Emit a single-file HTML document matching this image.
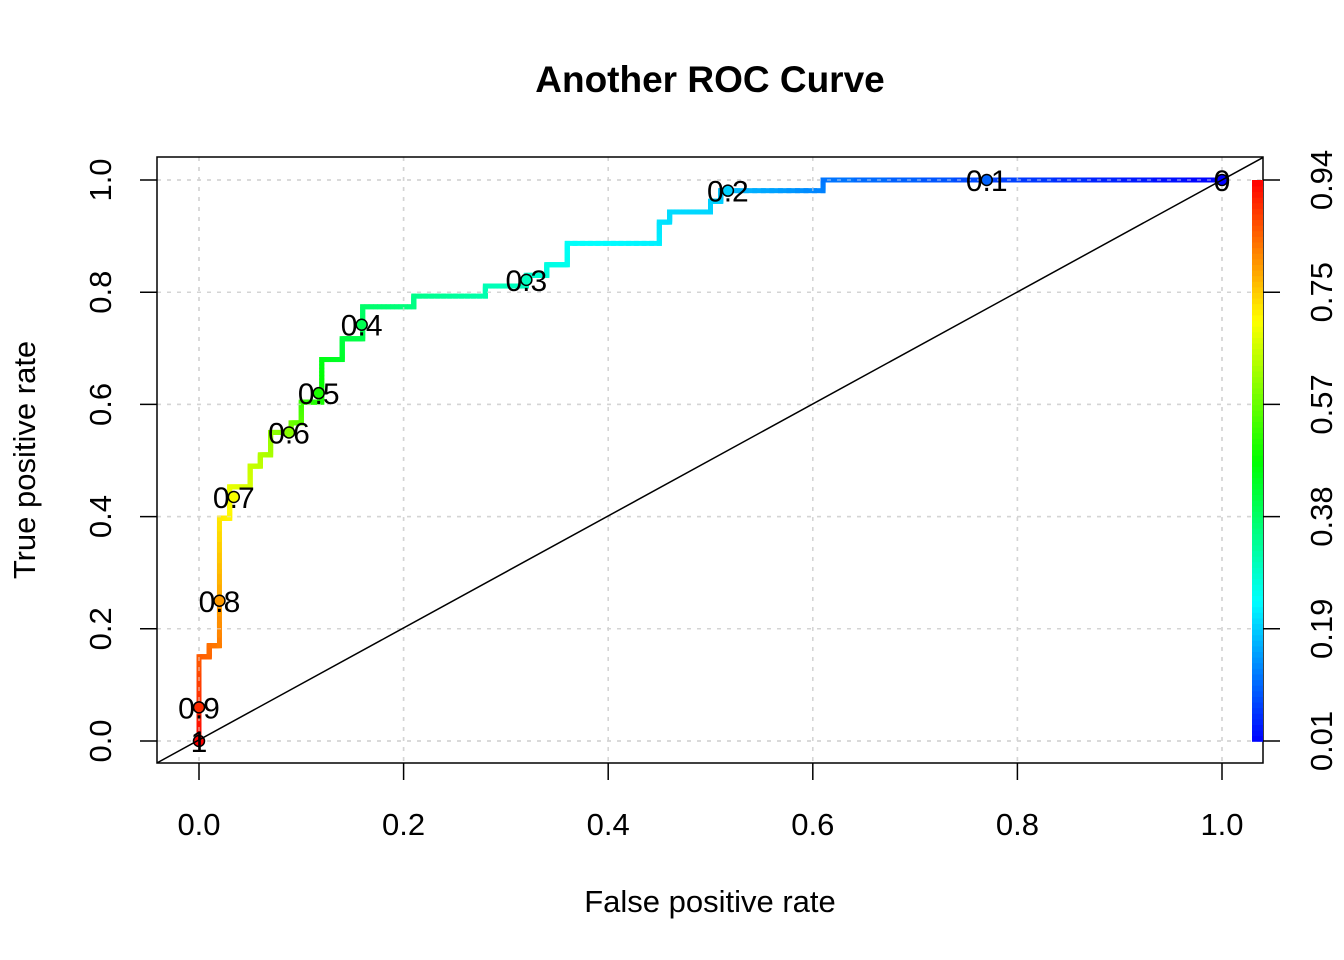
<!DOCTYPE html>
<html><head><meta charset="utf-8"><style>
body{margin:0;background:#fff;}
svg{display:block;font-family:"Liberation Sans",Arial,sans-serif;}
</style></head><body>
<svg id="chart" width="1344" height="960" viewBox="0 0 1344 960" xmlns="http://www.w3.org/2000/svg">
<rect width="1344" height="960" fill="#fff"/>
<text x="710" y="92" text-anchor="middle" font-size="37" font-weight="bold">Another ROC Curve</text>
<g id="grid"></g>
<g id="curve"></g>
<g id="grid2"></g>
<g id="marks"></g>
<g id="axes"></g>
<g id="cbar"></g>
<text x="710" y="912" text-anchor="middle" font-size="31">False positive rate</text>
<text transform="translate(35,460) rotate(-90)" text-anchor="middle" font-size="31">True positive rate</text>
</svg>
<script>
const fprs=[0,0,0.01,0.01,0.02,0.02,0.03,0.03,0.05,0.05,0.06,0.06,0.07,0.07,0.09,0.09,0.1,0.1,0.12,0.12,0.14,0.14,0.16,0.16,0.21,0.21,0.28,0.28,0.32,0.32,0.34,0.34,0.36,0.36,0.45,0.45,0.46,0.46,0.5,0.5,0.51,0.51,0.61,0.61,1];
const tprs=[0,0.15,0.15,0.17,0.17,0.397,0.397,0.453,0.453,0.49,0.49,0.51,0.51,0.55,0.55,0.567,0.567,0.604,0.604,0.68,0.68,0.717,0.717,0.774,0.774,0.793,0.793,0.811,0.811,0.83,0.83,0.849,0.849,0.887,0.887,0.925,0.925,0.943,0.943,0.962,0.962,0.981,0.981,1,1];
const cutoffs=[0.94,0.86,0.85,0.84,0.83,0.73,0.72,0.69,0.67,0.66,0.65,0.64,0.63,0.61,0.59,0.58,0.56,0.53,0.5,0.46,0.44,0.42,0.41,0.38,0.36,0.35,0.32,0.31,0.3,0.29,0.28,0.27,0.26,0.25,0.23,0.22,0.215,0.21,0.205,0.2,0.2,0.19,0.13,0.12,0.01];
const labelText=["1","0.9","0.8","0.7","0.6","0.5","0.4","0.3","0.2","0.1","0"];
const labelFpr=[0,0,0.02,0.034,0.088,0.117,0.159,0.32,0.517,0.77,1];
const labelTpr=[0,0.06,0.25,0.435,0.55,0.62,0.742,0.822,0.981,1,1];
const labelCut=[0.94,0.9,0.8,0.7,0.6,0.5,0.4,0.3,0.2,0.1,0.01];
const xTicks=[0,0.2,0.4,0.6,0.8,1.0];
const xTickLabels=["0.0","0.2","0.4","0.6","0.8","1.0"];
const yTicks=[0,0.2,0.4,0.6,0.8,1.0];
const yTickLabels=["0.0","0.2","0.4","0.6","0.8","1.0"];
const cbTickLabels=["0.01","0.19","0.38","0.57","0.75","0.94"];
const cMin=0.01,cMax=0.94;

const X=v=>199+v*1023, Y=v=>741-v*561;
const col=c=>{let t=(c-cMin)/(cMax-cMin);t=Math.max(0,Math.min(1,t));return `hsl(${(1-t)*240},100%,50%)`;};
const NS="http://www.w3.org/2000/svg";
function mk(tag,attrs,parent){const e=document.createElementNS(NS,tag);for(const k in attrs)e.setAttribute(k,attrs[k]);parent.appendChild(e);return e;}
const grid=document.getElementById('grid'),grid2=document.getElementById('grid2'),curve=document.getElementById('curve'),marks=document.getElementById('marks'),axes=document.getElementById('axes'),cbar=document.getElementById('cbar');

function drawGrid(g,color){
 xTicks.forEach(v=>{const l=mk('line',{x1:X(v),x2:X(v),y1:157,y2:763,stroke:color,'stroke-width':1.5,'stroke-dasharray':'4 6'},g);
 
 });
 yTicks.forEach(v=>{const l=mk('line',{x1:157,x2:1263,y1:Y(v),y2:Y(v),stroke:color,'stroke-width':1.5,'stroke-dasharray':'4 6'},g);
 
 });
}
drawGrid(grid,'#c8c8c8');

for(let i=0;i<fprs.length-1;i++){
 const n=12;
 for(let k=0;k<n;k++){
  const a=k/n,b=(k+1)/n;
  const x1=X(fprs[i]+(fprs[i+1]-fprs[i])*a),x2=X(fprs[i]+(fprs[i+1]-fprs[i])*b);
  const y1=Y(tprs[i]+(tprs[i+1]-tprs[i])*a),y2=Y(tprs[i]+(tprs[i+1]-tprs[i])*b);
  const c=cutoffs[i]+(cutoffs[i+1]-cutoffs[i])*(a+b)/2;
  const s=mk('line',{x1:x1,y1:y1,x2:x2,y2:y2,stroke:col(c),'stroke-width':5,'stroke-linecap':'square'},curve);
  
  
 }
}
const ov=document.createElementNS(NS,'g');ov.setAttribute('opacity','0.6');grid2.appendChild(ov);
drawGrid(ov,'#dddddd');

const d=mk('line',{x1:X(-0.041),y1:Y(-0.039),x2:X(1.04),y2:Y(1.04),stroke:'#000','stroke-width':1.5},axes);



labelText.forEach((t,i)=>{
 const c=mk('circle',{cx:X(labelFpr[i]),cy:Y(labelTpr[i]),r:5.5,fill:col(labelCut[i]),stroke:'#000','stroke-width':1.5},marks);
 
 
 const tx=mk('text',{x:X(labelFpr[i]),y:Y(labelTpr[i])+11,'text-anchor':'middle','font-size':30},marks);
 tx.textContent=t;
 
 
});

const box=mk('rect',{x:157,y:157,width:1106,height:606,fill:'none',stroke:'#000','stroke-width':1.5},axes);


xTicks.forEach((v,i)=>{
 const l=mk('line',{x1:X(v),x2:X(v),y1:763,y2:780,stroke:'#000','stroke-width':1.5},axes);
 
 
 const t=mk('text',{x:X(v),y:835,'text-anchor':'middle','font-size':31},axes);t.textContent=xTickLabels[i];
 
 
});
yTicks.forEach((v,i)=>{
 const l=mk('line',{x1:140,x2:157,y1:Y(v),y2:Y(v),stroke:'#000','stroke-width':1.5},axes);
 
 
 const t=mk('text',{transform:`translate(111,${Y(v)}) rotate(-90)`,'text-anchor':'middle','font-size':31},axes);t.textContent=yTickLabels[i];
 
 
});
const N=100;
for(let k=0;k<N;k++){
 const c=cMin+(cMax-cMin)*(k+0.5)/N;
 const yA=741-561*k/N, yB=741-561*(k+1)/N;
 const r=mk('rect',{x:1252,y:yB,width:11,height:yA-yB+0.8,fill:col(c)},cbar);
 
 
}
cbTickLabels.forEach((t,i)=>{
 const y=741-561*i/(cbTickLabels.length-1);
 const l=mk('line',{x1:1263,x2:1280,y1:y,y2:y,stroke:'#000','stroke-width':1.5},cbar);
 
 
 const tx=mk('text',{transform:`translate(1332,${y}) rotate(-90)`,'text-anchor':'middle','font-size':31},cbar);tx.textContent=t;
 
 
});
</script>
</body></html>
